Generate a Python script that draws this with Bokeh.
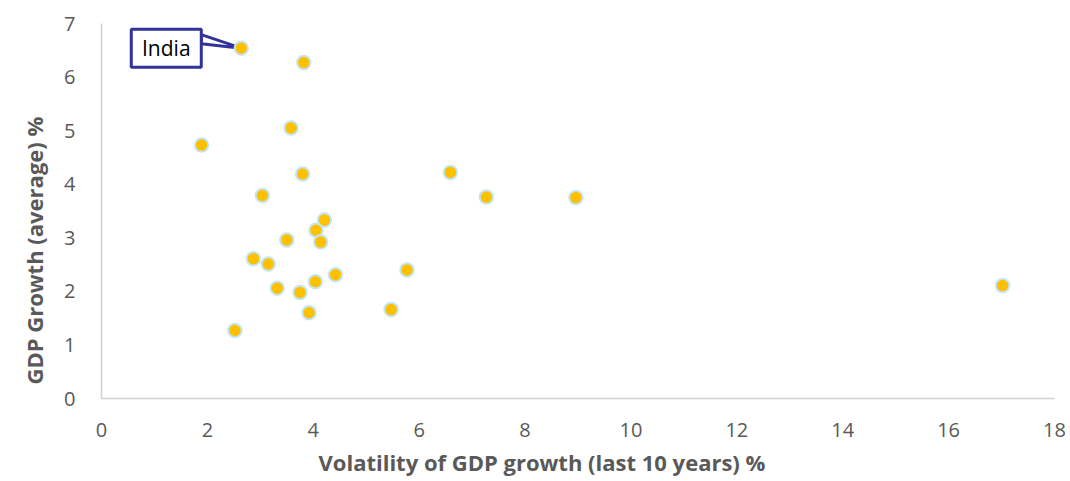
from bokeh.plotting import figure
from bokeh.models import ColumnDataSource, SingleIntervalTicker, Range1d, Title
from bokeh.core.properties import value
from bokeh.embed import file_html
from bokeh.resources import INLINE

# Volatility (std. dev. of GDP growth, last 10 years, %) vs average GDP growth (%)
volatility = [2.64, 3.82, 1.89, 3.58, 3.80, 3.04, 4.21, 4.05, 4.14, 3.50, 2.87, 3.15,
              5.77, 4.42, 4.04, 3.32, 3.75, 5.47, 3.92, 2.52, 6.59, 7.27, 8.96, 17.02]
growth = [6.54, 6.27, 4.73, 5.05, 4.19, 3.79, 3.33, 3.14, 2.92, 2.96, 2.61, 2.51,
          2.40, 2.31, 2.18, 2.06, 1.98, 1.66, 1.60, 1.27, 4.22, 3.76, 3.75, 2.11]
highlight_name = "India"
highlight_index = 0

x_title = "Volatility of GDP growth (last 10 years) %"
y_title = "GDP Growth (average) %"

W, H = 1070, 481
LEFT, RIGHT, TOP, BOTTOM = 101, 16, 23, 83
X_MAX, Y_MAX = 18, 7

FONT = "Open Sans"
GREY = "#595959"

p = figure(width=W, height=H, output_backend="svg", toolbar_location=None,
           x_range=Range1d(0, X_MAX), y_range=Range1d(0, Y_MAX),
           min_border_left=LEFT, min_border_right=RIGHT,
           min_border_top=TOP, min_border_bottom=BOTTOM)
p.outline_line_color = None
p.xgrid.grid_line_color = None
p.ygrid.grid_line_color = None
p.background_fill_color = "white"
p.border_fill_color = "white"

for ax in (p.xaxis[0], p.yaxis[0]):
    ax.major_tick_line_color = None
    ax.minor_tick_line_color = None
    ax.axis_line_color = "#d0d0d0"
    ax.axis_line_width = 1.5
    ax.major_label_text_font = FONT
    ax.major_label_text_font_size = "20px"
    ax.major_label_text_color = GREY

p.xaxis[0].ticker = SingleIntervalTicker(interval=2)
p.yaxis[0].ticker = SingleIntervalTicker(interval=1)
p.xaxis[0].major_label_standoff = 18
p.yaxis[0].major_label_standoff = 20

frame_w = W - LEFT - RIGHT
frame_h = H - TOP - BOTTOM

# axis titles, centred on the whole chart area rather than on the plot frame
title_style = dict(text_font=FONT, text_font_size="22px", text_font_style="bold",
                   text_color=GREY, align="left")
p.add_layout(Title(text=x_title, offset=217, standoff=10, **title_style), "below")
p.add_layout(Title(text=y_title, offset=14, standoff=26, **title_style), "left")

# data units per screen pixel, used for the callout geometry
ux = X_MAX / frame_w
uy = Y_MAX / frame_h

hx = volatility[highlight_index]
hy = growth[highlight_index]

# callout: box to the left of the highlighted point, with a wedge pointing at it
box_dx, box_w, box_h = -75, 70, 38
box_right = hx + (box_dx + box_w / 2) * ux
p.patch(x=[box_right, hx, box_right], y=[hy + 13.5 * uy, hy, hy + 4.5 * uy],
        fill_color="white", line_color="#30339a", line_width=3, line_join="round")
p.rect(x=[hx + box_dx * ux], y=[hy], width=box_w * ux, height=box_h * uy,
       fill_color="white", line_color="#30339a", line_width=3)
p.text(x=[hx + box_dx * ux], y=[hy], text=[highlight_name],
       text_font=value(FONT), text_font_size="21px", text_color="black",
       text_align="center", text_baseline="middle")

src = ColumnDataSource(dict(x=volatility, y=growth))
p.scatter("x", "y", source=src, size=13.5, fill_color="#ffc000",
          line_color="#c3e6f4", line_width=2)

open("out.html", "w").write(file_html(p, INLINE))
